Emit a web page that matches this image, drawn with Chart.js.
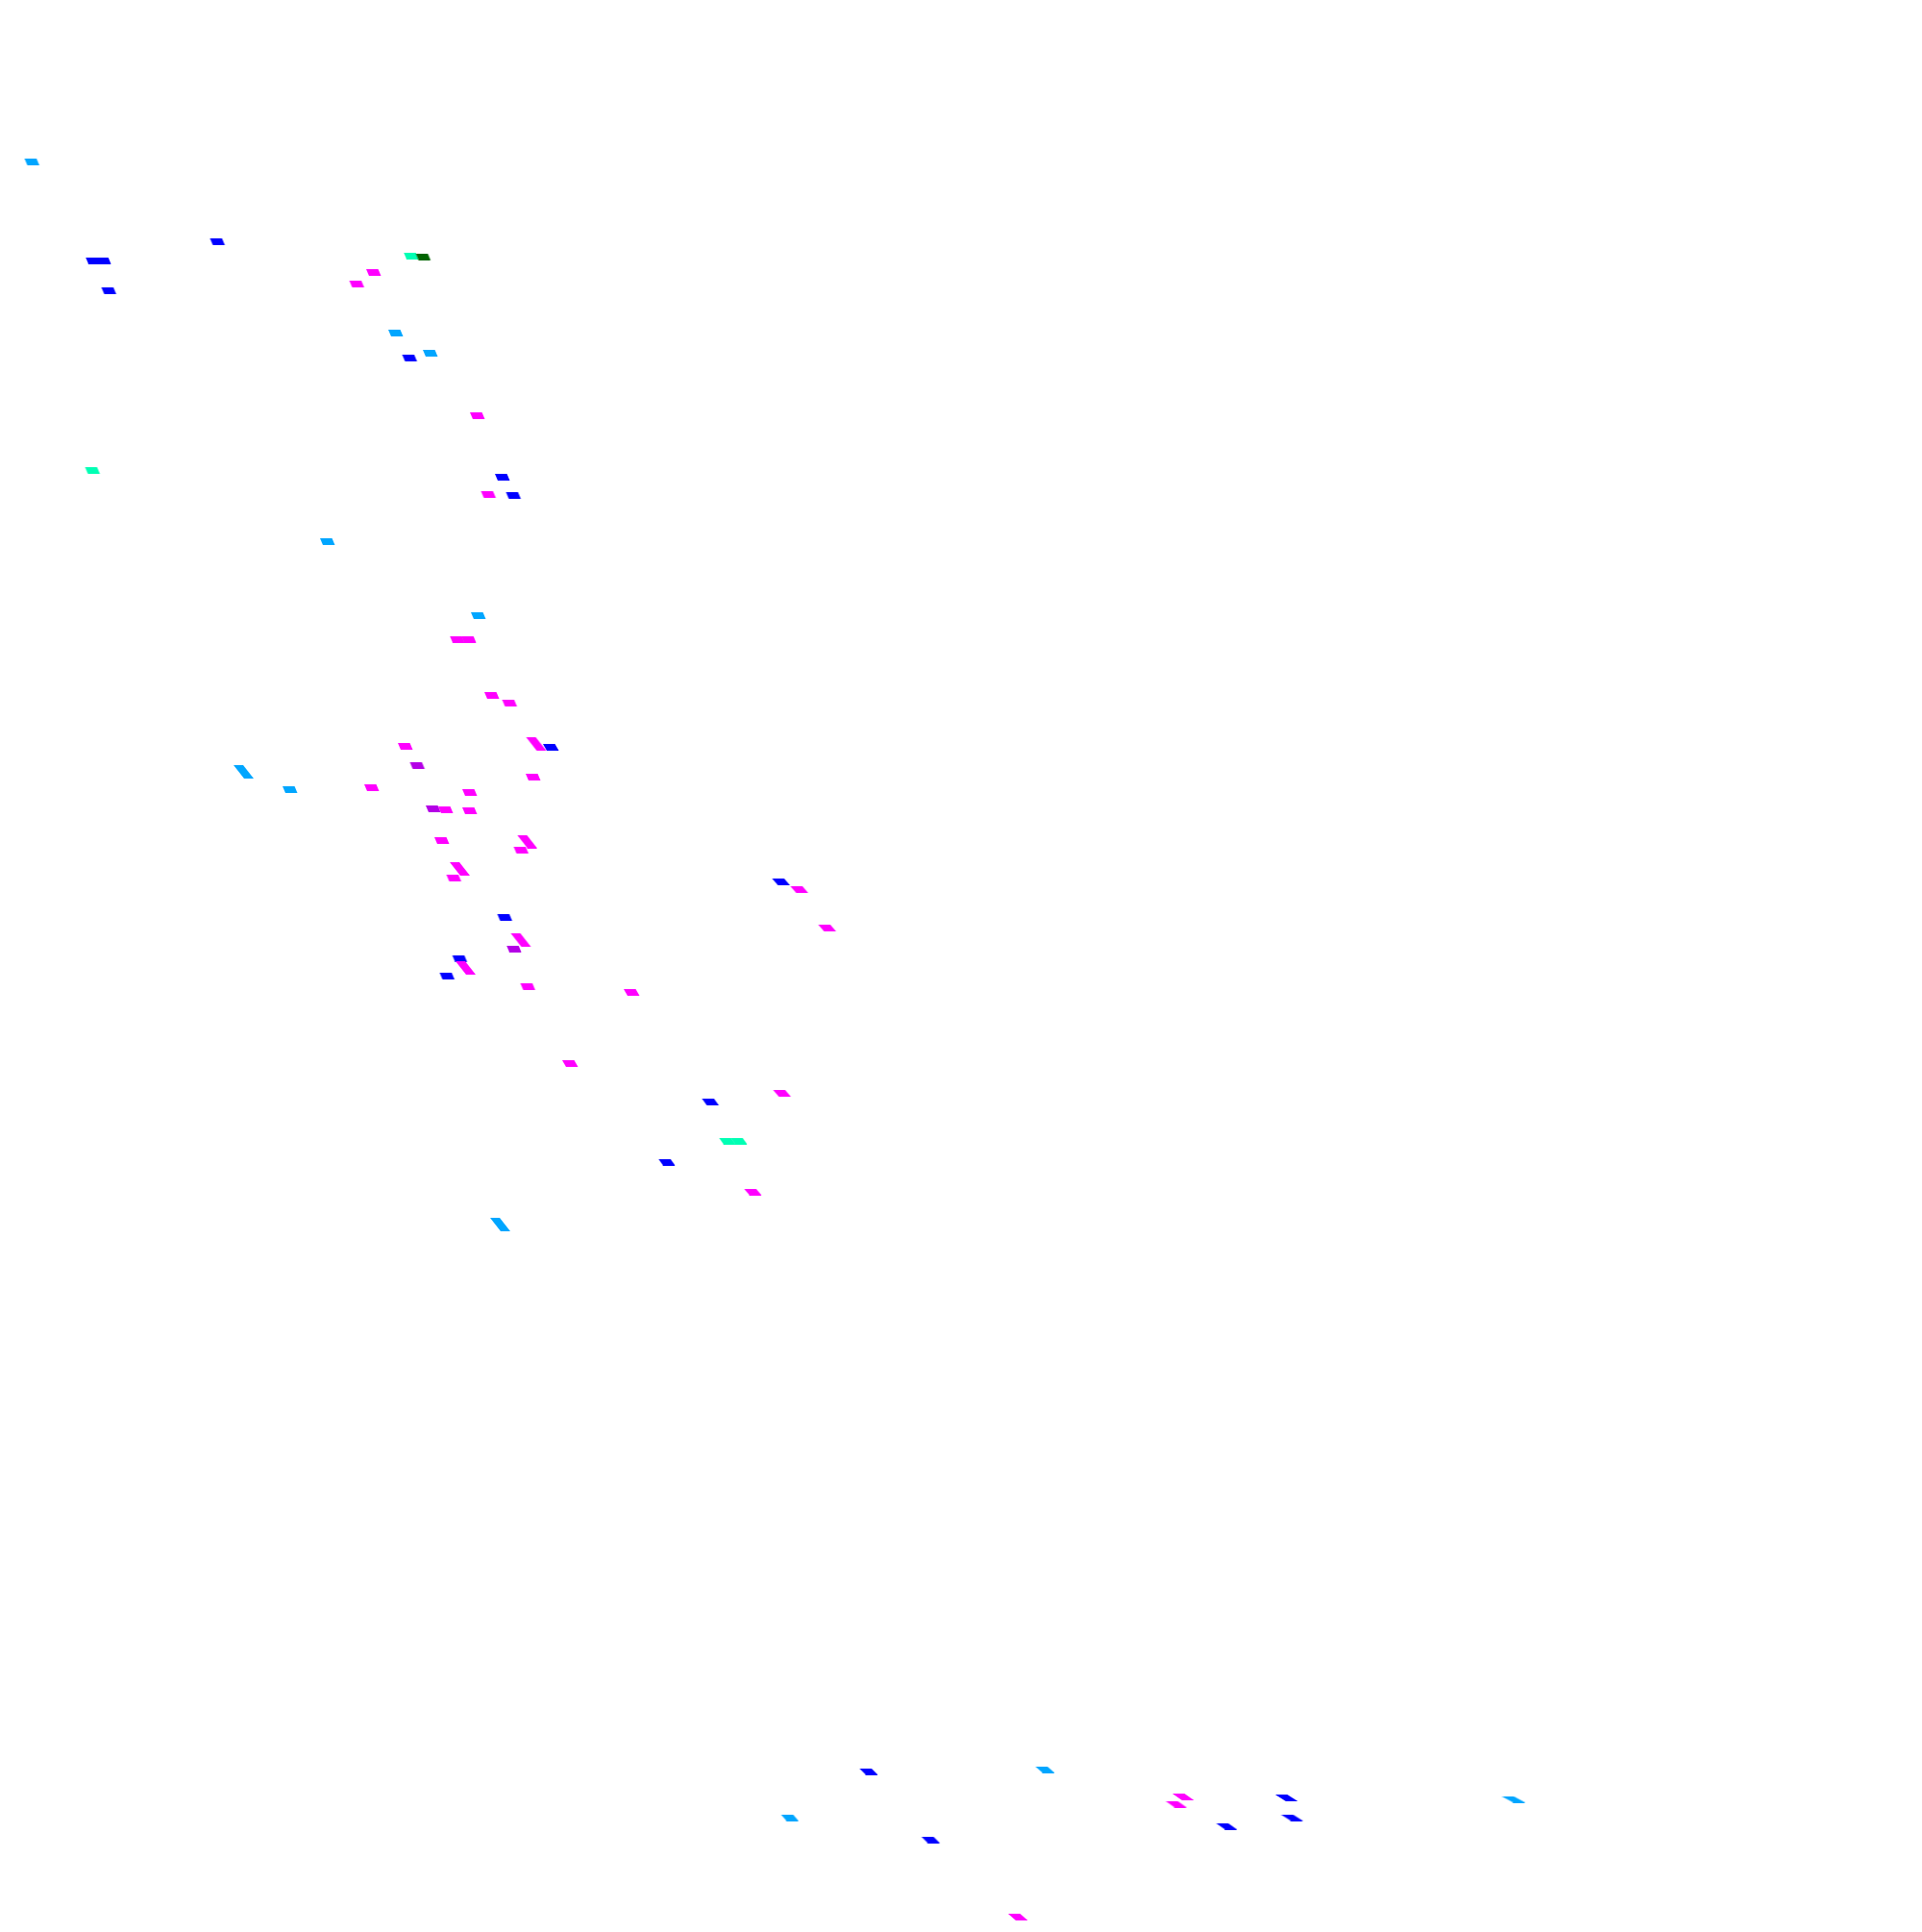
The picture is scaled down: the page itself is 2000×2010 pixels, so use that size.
<!DOCTYPE html>
<html>
<head>
<meta charset="utf-8">
<script src="https://cdn.jsdelivr.net/npm/chart.js@4.4.1/dist/chart.umd.min.js"></script>
<style>
  html, body { margin: 0; padding: 0; background: #ffffff; }
  canvas { display: block; }
</style>
</head>
<body>
<canvas id="scatter-chart" width="2000" height="2010"></canvas>
<script>
// marker centres, one list per colour
const lightBlue = [
  [33.5, 168.5], [412, 346.5], [448, 367.5], [341, 563.5], [498, 640.5],
  [302, 821.5], [822, 1891], [1087.5, 1841], [1575, 1872]
];
const lightBlueTall = [[253.5, 803], [520.5, 1274]];
const blue = [
  [226.5, 251.5], [97, 271], [108, 271], [113.5, 302.5], [426.5, 372.5],
  [523, 496.5], [534.5, 515.5], [573.5, 777.5], [525.5, 954.5], [478.5, 997],
  [465.5, 1015.5], [813, 917.5], [739.5, 1146.5], [694, 1209], [904, 1843],
  [968.5, 1914], [1339, 1870.5], [1344.5, 1891], [1276.5, 1900]
];
const magenta = [
  [389, 283.5], [371.5, 295.5], [497, 432.5], [508.5, 514.5], [476, 665],
  [488, 665], [512, 723.5], [530.5, 731.5], [422, 776.5], [555, 808.5],
  [489, 824.5], [387, 819.5], [464, 842.5], [489, 843.5], [460, 874.5],
  [542.5, 884.5], [472.5, 913.5], [549.5, 1026.5], [832, 925.5], [861, 965.5],
  [657.5, 1032.5], [593.5, 1106.5], [814, 1137.5], [783.5, 1240],
  [1231.5, 1869.5], [1224, 1877], [1059.5, 1994.5]
];
const magentaTall = [
  [558, 774], [548.5, 875.5], [478.5, 904], [542, 978], [484.5, 1007]
];
const purple = [[434.5, 796.5], [451, 841.5], [535, 987]];
const mint = [[428, 266], [96.5, 489.5], [757, 1187], [769, 1187]];
const darkGreen = [[440.5, 267]];

const seriesColors = {
  lightBlue: '#00a6ff',
  blue: '#0000ff',
  magenta: '#ff00ff',
  purple: '#b400e6',
  mint: '#00ffb4',
  darkGreen: '#006400'
};

// little slanted tiles, slant grows towards the right of the picture
const shapeCache = {};
function tile(color, w, h, skew) {
  const key = [color, w, h, skew].join('|');
  if (shapeCache[key]) return shapeCache[key];
  const c = document.createElement('canvas');
  c.width = Math.ceil(w + skew) + 2;
  c.height = Math.ceil(h);
  const g = c.getContext('2d');
  g.fillStyle = color;
  g.beginPath();
  g.moveTo(1, 0);
  g.lineTo(1 + w, 0);
  g.lineTo(1 + w + skew, h);
  g.lineTo(1 + skew, h);
  g.closePath();
  g.fill();
  shapeCache[key] = c;
  return c;
}
function skewAt(x) {
  return Math.round(3 + Math.max(0, x - 500) * 0.009);
}

function toPoints(list) {
  return list.map(p => ({ x: p[0], y: p[1] }));
}

function makeDataset(name, list, order, tall) {
  const color = seriesColors[name];
  return {
    label: name,
    data: toPoints(list),
    order: order,
    clip: false,
    pointRadius: 3,
    pointHoverRadius: 3,
    pointBorderWidth: 0,
    pointStyle: ctx => tall
      ? tile(color, 10, 14, 11)
      : tile(color, 12.5, 7, skewAt(ctx.raw ? ctx.raw.x : 0)),
    backgroundColor: color,
    borderColor: color
  };
}

const ctx = document.getElementById('scatter-chart').getContext('2d');
new Chart(ctx, {
  type: 'scatter',
  data: {
    datasets: [
      makeDataset('mint', mint, 7),
      makeDataset('lightBlue', lightBlue, 6),
      makeDataset('lightBlue', lightBlueTall, 5, true),
      makeDataset('blue', blue, 4),
      makeDataset('purple', purple, 3),
      makeDataset('darkGreen', darkGreen, 2),
      makeDataset('magenta', magenta, 1),
      makeDataset('magenta', magentaTall, 0, true)
    ]
  },
  options: {
    responsive: false,
    animation: false,
    devicePixelRatio: 1,
    events: [],
    layout: { padding: 0, autoPadding: false },
    plugins: {
      legend: { display: false },
      tooltip: { enabled: false }
    },
    scales: {
      x: { type: 'linear', min: 0, max: 2000, display: false },
      y: { type: 'linear', min: 0, max: 2010, reverse: true, display: false }
    }
  }
});
</script>
</body>
</html>
